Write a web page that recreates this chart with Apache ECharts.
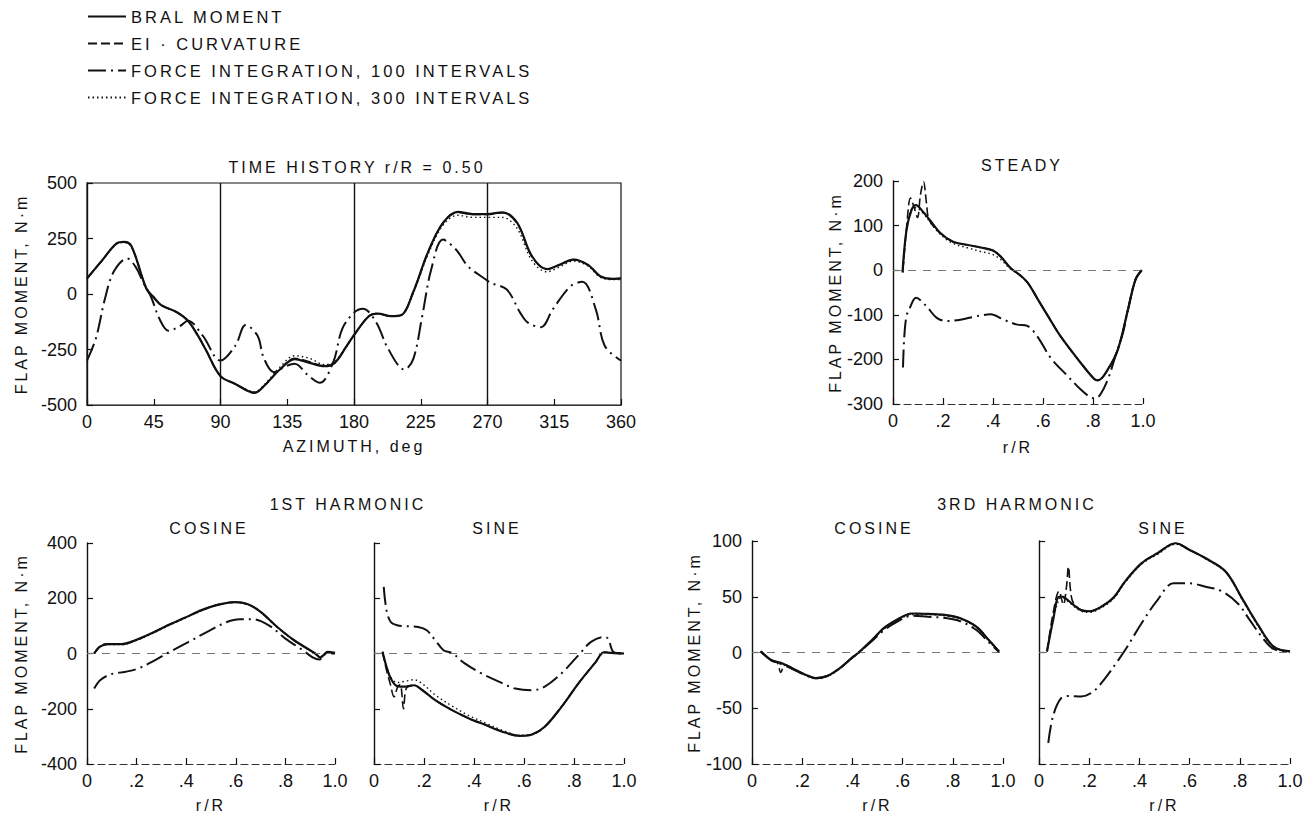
<!DOCTYPE html>
<html><head><meta charset="utf-8">
<script src="https://cdn.jsdelivr.net/npm/echarts@6/dist/echarts.min.js"></script>
<style>html,body{margin:0;padding:0;background:#fff}#c{width:1307px;height:816px}</style>
</head><body><div id="c"></div>
<script>
// ---------- DATA ----------
const seriesNames = ['BRAL MOMENT', 'EI · CURVATURE', 'FORCE INTEGRATION, 100 INTERVALS', 'FORCE INTEGRATION, 300 INTERVALS'];
const rTickLabels = ['0', '.2', '.4', '.6', '.8', '1.0'];
const azMarkers = [90, 180, 270];

// Time history r/R = 0.50 : [azimuth deg, moment N·m]
const timeBral = [[0,70],[10,150],[20,228],[25,235],[30,215],[40,25],[45,-15],[50,-50],[60,-80],[68,-120],[75,-190],[80,-250],[90,-370],[100,-405],[113,-445],[120,-410],[130,-340],[140,-293],[150,-310],[160,-325],[167,-310],[175,-235],[180,-185],[190,-100],[196,-88],[205,-100],[212,-95],[220,10],[230,190],[240,320],[250,370],[260,360],[270,360],[280,368],[290,320],[300,170],[310,112],[318,130],[328,155],[338,130],[346,80],[355,68],[360,70]];
const timeEI = [[0,70],[10,150],[20,228],[25,235],[30,215],[40,25],[45,-15],[50,-50],[60,-80],[68,-120],[75,-190],[80,-250],[90,-370],[100,-405],[113,-445],[120,-410],[130,-340],[140,-290],[150,-305],[160,-325],[167,-310],[175,-235],[180,-185],[190,-100],[196,-88],[205,-100],[212,-95],[220,10],[230,190],[240,320],[250,368],[260,358],[270,358],[280,366],[290,318],[300,168],[310,112],[318,130],[328,155],[338,130],[346,80],[355,68],[360,70]];
const timeF300 = [[0,70],[10,150],[20,225],[25,232],[30,212],[40,25],[45,-15],[50,-50],[60,-80],[68,-120],[75,-190],[80,-250],[90,-370],[100,-405],[113,-440],[120,-405],[130,-330],[140,-278],[150,-290],[160,-318],[167,-305],[175,-235],[180,-185],[190,-100],[196,-88],[205,-100],[212,-95],[220,5],[230,180],[240,310],[250,355],[260,345],[270,345],[280,345],[290,295],[300,150],[310,100],[318,120],[328,148],[338,125],[346,75],[355,65],[360,65]];
const timeF100 = [[0,-300],[6,-200],[12,-24],[18,100],[27,160],[33,120],[38,50],[43,-10],[49,-114],[55,-166],[63,-143],[68,-120],[78,-188],[90,-300],[100,-233],[107,-140],[115,-188],[119,-285],[126,-352],[134,-325],[140,-314],[149,-366],[157,-400],[166,-307],[172,-158],[180,-84],[186,-66],[195,-128],[203,-247],[214,-340],[220,-292],[226,-99],[232,109],[240,245],[249,198],[257,124],[270,60],[272,50],[283,20],[292,-84],[297,-128],[306,-150],[314,-69],[326,35],[334,55],[343,-69],[349,-233],[360,-300]];

// Steady : [r/R, moment N·m]
const steadyBral = [[0.038,-5],[0.054,90],[0.074,135],[0.092,146],[0.12,131],[0.148,112],[0.19,83],[0.24,64],[0.295,57],[0.35,51],[0.40,44],[0.43,31],[0.47,5],[0.51,-12],[0.54,-29],[0.58,-66],[0.62,-103],[0.67,-148],[0.74,-200],[0.805,-244],[0.82,-247],[0.86,-222],[0.90,-177],[0.94,-88],[0.97,-21],[0.995,0]];
const steadyEI = [[0.04,0],[0.055,100],[0.07,162],[0.085,140],[0.098,118],[0.11,170],[0.122,198],[0.134,150],[0.145,112],[0.19,83],[0.24,64],[0.295,57],[0.35,51],[0.40,44],[0.43,31],[0.47,5],[0.51,-12],[0.54,-29],[0.58,-66],[0.62,-103],[0.67,-148],[0.74,-200],[0.805,-244],[0.82,-247],[0.86,-222],[0.90,-177],[0.94,-88],[0.97,-21],[0.995,0]];
const steadyF300 = [[0.04,-5],[0.055,95],[0.072,135],[0.09,140],[0.12,128],[0.15,106],[0.19,80],[0.24,60],[0.30,50],[0.35,42],[0.40,35],[0.43,24],[0.47,3],[0.51,-12],[0.54,-29],[0.58,-66],[0.62,-103],[0.67,-148],[0.74,-200],[0.805,-244],[0.82,-247],[0.86,-222],[0.90,-177],[0.94,-88],[0.97,-21],[0.995,0]];
const steadyF100 = [[0.04,-218],[0.045,-150],[0.054,-103],[0.067,-85],[0.092,-62],[0.134,-81],[0.175,-107],[0.215,-114],[0.27,-111],[0.336,-103],[0.39,-99],[0.443,-111],[0.497,-122],[0.537,-125],[0.577,-148],[0.63,-196],[0.698,-237],[0.75,-267],[0.79,-285],[0.81,-287],[0.83,-278],[0.86,-244],[0.89,-192],[0.92,-140],[0.94,-88],[0.97,-21],[0.995,0]];

// 1st harmonic cosine
const cos1Bral = [[0.029,0],[0.054,26],[0.088,34],[0.139,34],[0.19,46],[0.258,72],[0.326,102],[0.394,129],[0.462,157],[0.53,177],[0.598,186],[0.649,178],[0.70,151],[0.767,96],[0.835,48],[0.92,0],[0.94,-14],[0.955,-5],[0.97,6],[1.0,2]];
const cos1EI = [[0.029,0],[0.054,28],[0.088,35],[0.139,34],[0.19,46],[0.258,72],[0.326,102],[0.394,129],[0.462,157],[0.53,177],[0.598,186],[0.649,178],[0.70,151],[0.767,96],[0.835,48],[0.92,0],[0.94,-14],[0.955,-5],[0.97,6],[1.0,2]];
const cos1F300 = [[0.029,0],[0.054,24],[0.088,32],[0.139,32],[0.19,44],[0.258,70],[0.326,100],[0.394,127],[0.462,155],[0.53,176],[0.598,185],[0.649,177],[0.70,150],[0.767,95],[0.835,47],[0.92,0],[0.94,-12],[0.955,-4],[0.97,5],[1.0,2]];
const cos1F100 = [[0.029,-127],[0.054,-96],[0.097,-75],[0.156,-66],[0.207,-54],[0.275,-24],[0.326,2],[0.41,42],[0.496,84],[0.564,114],[0.615,124],[0.666,124],[0.733,102],[0.80,54],[0.87,12],[0.91,-14],[0.937,-22],[0.96,-2],[1.0,0]];

// 1st harmonic sine
const sin1Bral = [[0.034,6],[0.05,-48],[0.067,-90],[0.093,-118],[0.126,-120],[0.16,-115],[0.194,-133],[0.245,-169],[0.312,-205],[0.38,-235],[0.447,-259],[0.514,-283],[0.582,-298],[0.632,-293],[0.683,-265],[0.75,-193],[0.818,-108],[0.885,-33],[0.92,4],[0.95,2],[1.0,0]];
const sin1EI = [[0.034,6],[0.05,-60],[0.065,-110],[0.08,-157],[0.095,-120],[0.105,-112],[0.118,-200],[0.13,-125],[0.16,-115],[0.194,-133],[0.245,-169],[0.312,-205],[0.38,-235],[0.447,-259],[0.514,-283],[0.582,-298],[0.632,-293],[0.683,-265],[0.75,-193],[0.818,-108],[0.885,-33],[0.92,4],[0.95,2],[1.0,0]];
const sin1F300 = [[0.034,6],[0.05,-45],[0.067,-85],[0.093,-105],[0.126,-100],[0.16,-95],[0.194,-110],[0.245,-150],[0.312,-190],[0.38,-225],[0.447,-252],[0.514,-278],[0.582,-296],[0.632,-293],[0.683,-265],[0.75,-193],[0.818,-108],[0.885,-33],[0.92,4],[0.95,2],[1.0,0]];
const sin1F100 = [[0.039,241],[0.05,157],[0.067,114],[0.093,102],[0.126,99],[0.177,96],[0.211,84],[0.245,48],[0.278,12],[0.312,2],[0.363,-36],[0.43,-72],[0.514,-108],[0.565,-127],[0.632,-133],[0.683,-120],[0.75,-72],[0.818,-6],[0.868,42],[0.92,60],[0.936,54],[0.96,4],[1.0,0]];

// 3rd harmonic cosine
const cos3Bral = [[0.035,1],[0.076,-6.6],[0.124,-10],[0.172,-15.5],[0.22,-20.6],[0.252,-23],[0.30,-21],[0.35,-14],[0.397,-5],[0.43,1],[0.477,11],[0.526,22],[0.574,29],[0.638,35],[0.70,34.6],[0.767,33.7],[0.83,30.7],[0.895,23],[0.944,11],[0.984,1]];
const cos3EI = [[0.035,1],[0.076,-6.6],[0.1,-9],[0.115,-18],[0.13,-11],[0.172,-15.5],[0.22,-20.6],[0.252,-23],[0.30,-21],[0.35,-14],[0.397,-5],[0.43,1],[0.477,11],[0.526,22],[0.574,29],[0.638,35],[0.70,34.6],[0.767,33.7],[0.83,30.7],[0.895,23],[0.944,11],[0.984,1]];
const cos3F300 = [[0.035,1],[0.076,-7],[0.124,-11],[0.172,-16],[0.22,-21],[0.252,-23.5],[0.30,-21.5],[0.35,-14.5],[0.397,-5.5],[0.43,0.5],[0.477,10.5],[0.526,21],[0.574,28],[0.638,34],[0.70,34],[0.767,33],[0.83,30],[0.895,22],[0.944,10],[0.984,1]];
const cos3F100 = [[0.035,1],[0.076,-7],[0.124,-11],[0.172,-16],[0.22,-21],[0.252,-23],[0.30,-21],[0.35,-14],[0.397,-5],[0.43,1],[0.477,10],[0.526,20],[0.574,27],[0.638,33],[0.70,32],[0.767,31],[0.83,28],[0.895,20],[0.944,9],[0.984,0.5]];

// 3rd harmonic sine
const sin3Bral = [[0.032,1],[0.056,29],[0.08,50],[0.095,50],[0.104,49],[0.136,43],[0.168,38],[0.20,37],[0.248,41],[0.296,49],[0.344,64],[0.408,80],[0.472,89],[0.544,98],[0.60,92],[0.664,84.5],[0.744,72.5],[0.808,49],[0.872,25],[0.936,5],[1.0,1]];
const sin3EI = [[0.032,1],[0.056,35],[0.08,55],[0.097,43],[0.11,60],[0.117,77],[0.126,55],[0.136,45],[0.168,38],[0.20,37],[0.248,41],[0.296,49],[0.344,64],[0.408,80],[0.472,89],[0.544,98],[0.60,92],[0.664,84.5],[0.744,72.5],[0.808,49],[0.872,25],[0.936,5],[1.0,1]];
const sin3F300 = [[0.032,1],[0.056,28],[0.08,48],[0.095,49],[0.104,48],[0.136,42],[0.168,37],[0.20,36],[0.248,40],[0.296,48],[0.344,63],[0.408,79],[0.472,88],[0.544,97],[0.60,92],[0.664,84],[0.744,72],[0.808,48],[0.872,24],[0.936,4],[1.0,1]];
const sin3F100 = [[0.037,-81],[0.056,-57],[0.088,-41],[0.12,-39],[0.168,-39.4],[0.216,-35],[0.264,-23],[0.312,-8],[0.344,2.4],[0.408,26],[0.472,47],[0.536,62],[0.60,62],[0.664,59],[0.728,55],[0.792,44],[0.84,29],[0.888,14],[0.936,3],[1.0,1]];

// ---------- CHART ----------
const FONT = '"Liberation Sans", Arial, Helvetica, sans-serif';
const INK = '#111';
const lineStyles = {
  'BRAL MOMENT': { type: 'solid', width: 2.2 },
  'EI · CURVATURE': { type: [9, 4], width: 1.6 },
  'FORCE INTEGRATION, 100 INTERVALS': { type: [18, 5, 2, 5], width: 2 },
  'FORCE INTEGRATION, 300 INTERVALS': { type: [1.5, 3], width: 1.4 }
};

const panels = [
  { grid: { left: 87, top: 183, width: 534, height: 222 }, data: [timeBral, timeEI, timeF100, timeF300],
    x: { min: 0, max: 360, interval: 45, name: 'AZIMUTH, deg', gap: 33, fmt: v => String(v) },
    y: { min: -500, max: 500, interval: 250, name: 'FLAP MOMENT, N·m', gap: 58, labels: true },
    frame: true, vlines: true, zero: false },
  { grid: { left: 893, top: 181, width: 250, height: 223 }, data: [steadyBral, steadyEI, steadyF100, steadyF300],
    x: { min: 0, max: 1, interval: 0.2, name: 'r/R', gap: 35 },
    y: { min: -300, max: 200, interval: 100, name: 'FLAP MOMENT, N·m', gap: 50, labels: true }, zero: true },
  { grid: { left: 87, top: 543, width: 248, height: 221 }, data: [cos1Bral, cos1EI, cos1F100, cos1F300],
    x: { min: 0, max: 1, interval: 0.2, name: 'r/R', gap: 33 },
    y: { min: -400, max: 400, interval: 200, name: 'FLAP MOMENT, N·m', gap: 58, labels: true }, zero: true },
  { grid: { left: 374, top: 543, width: 250, height: 221 }, data: [sin1Bral, sin1EI, sin1F100, sin1F300],
    x: { min: 0, max: 1, interval: 0.2, name: 'r/R', gap: 33 },
    y: { min: -400, max: 400, interval: 200, name: '', labels: false }, zero: true },
  { grid: { left: 752, top: 541, width: 251, height: 223 }, data: [cos3Bral, cos3EI, cos3F100, cos3F300],
    x: { min: 0, max: 1, interval: 0.2, name: 'r/R', gap: 33 },
    y: { min: -100, max: 100, interval: 50, name: 'FLAP MOMENT, N·m', gap: 50, labels: true }, zero: true },
  { grid: { left: 1039, top: 541, width: 251, height: 223 }, data: [sin3Bral, sin3EI, sin3F100, sin3F300],
    x: { min: 0, max: 1, interval: 0.2, name: 'r/R', gap: 33 },
    y: { min: -100, max: 100, interval: 50, name: '', labels: false }, zero: true }
];

const rFmt = v => rTickLabels[Math.round(v / 0.2)] ?? '';
const nameStyle = { fontFamily: FONT, fontSize: 16, color: INK };
const tickStyle = { fontFamily: FONT, fontSize: 18, color: INK };

const grids = [], xAxes = [], yAxes = [], series = [];
panels.forEach((p, i) => {
  grids.push(Object.assign({ outerBoundsMode: 'none', containLabel: false,
    show: !!p.frame, borderColor: INK, borderWidth: 1.2 }, p.grid));
  xAxes.push({ gridIndex: i, type: 'value', min: p.x.min, max: p.x.max, interval: p.x.interval,
    name: p.x.name, nameLocation: 'middle', nameGap: p.x.gap, nameTextStyle: nameStyle,
    axisLine: { show: true, onZero: false, lineStyle: { color: '#333', width: 1.2, type: p.frame ? 'solid' : [7, 4] } },
    axisTick: { show: true, inside: true, length: 6, lineStyle: { color: INK, width: 1.2 } },
    axisLabel: Object.assign({ margin: 8, formatter: p.x.fmt || rFmt }, tickStyle),
    splitLine: { show: false } });
  yAxes.push({ gridIndex: i, type: 'value', min: p.y.min, max: p.y.max, interval: p.y.interval,
    name: p.y.name, nameLocation: 'middle', nameGap: p.y.gap || 50, nameTextStyle: nameStyle,
    axisLine: { show: true, onZero: false, lineStyle: { color: INK, width: 1.4 } },
    axisTick: { show: true, inside: true, length: 6, lineStyle: { color: INK, width: 1.2 } },
    axisLabel: Object.assign({ show: p.y.labels, margin: 10 }, tickStyle),
    splitLine: { show: false } });
  // draw order: F300, EI, F100, BRAL
  [3, 1, 2, 0].forEach(k => {
    const name = seriesNames[k];
    const s = { name, type: 'line', xAxisIndex: i, yAxisIndex: i, data: p.data[k],
      smooth: 0.35, symbol: 'none', showSymbol: false, silent: true, animation: false,
      itemStyle: { color: INK },
      lineStyle: Object.assign({ color: INK }, lineStyles[name]), z: 3 + k };
    if (k === 0) {
      const ml = [];
      if (p.vlines) azMarkers.forEach(a => ml.push({ xAxis: a, lineStyle: { type: 'solid', width: 1.4, color: INK } }));
      if (p.zero) ml.push({ yAxis: 0, lineStyle: { type: [8, 7], width: 1, color: '#777' } });
      if (ml.length) s.markLine = { silent: true, symbol: 'none', label: { show: false }, data: ml, animation: false };
    }
    series.push(s);
  });
});

const headings = [
  { text: 'TIME HISTORY r/R = 0.50', x: 357, y: 167 },
  { text: 'STEADY', x: 1022, y: 165 },
  { text: '1ST HARMONIC', x: 348, y: 504 },
  { text: 'COSINE', x: 209, y: 528 },
  { text: 'SINE', x: 497, y: 528 },
  { text: '3RD HARMONIC', x: 1017, y: 504 },
  { text: 'COSINE', x: 874, y: 528 },
  { text: 'SINE', x: 1163, y: 528 }
];

const chart = echarts.init(document.getElementById('c'), null, { renderer: 'svg' });
chart.setOption({
  backgroundColor: '#fff',
  animation: false,
  textStyle: { fontFamily: FONT },
  legend: {
    data: seriesNames, orient: 'vertical', left: 82, top: 3, itemWidth: 38, itemHeight: 14, itemGap: 10,
    selectedMode: false, itemStyle: { opacity: 0, borderWidth: 0 },
    textStyle: { fontFamily: FONT, fontSize: 16.5, color: INK }
  },
  graphic: headings.map(h => ({ type: 'text', x: h.x, y: h.y, silent: true,
    style: { text: h.text, fill: INK, font: '16px ' + FONT, textAlign: 'center', textVerticalAlign: 'middle' } })),
  grid: grids, xAxis: xAxes, yAxis: yAxes, series
});

// the typeset original uses widely tracked capitals: space out worded labels (not numbers)
function trackText() {
  document.querySelectorAll('#c svg text').forEach(t => {
    if (/[A-Za-z]/.test(t.textContent)) t.setAttribute('letter-spacing', '3');
  });
}
trackText();
chart.on('finished', trackText);
</script></body></html>
